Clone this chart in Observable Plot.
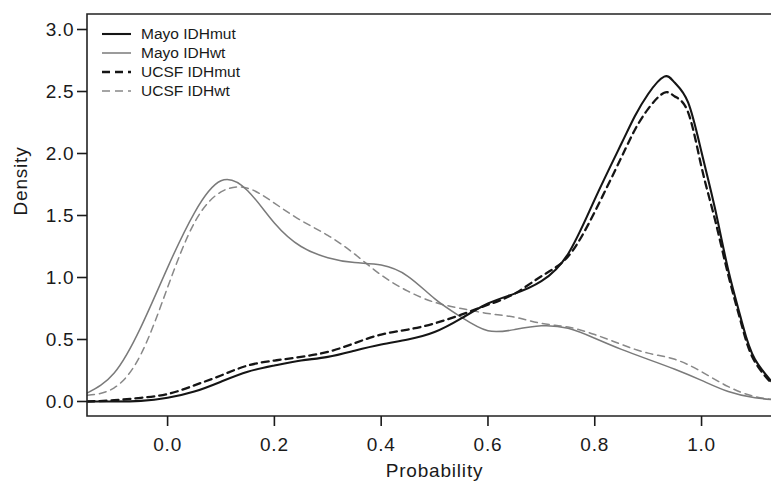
<!DOCTYPE html>
<html>
<head>
<meta charset="utf-8">
<script src="https://cdn.jsdelivr.net/npm/d3@7"></script>
<script src="https://cdn.jsdelivr.net/npm/@observablehq/plot@0.6"></script>
<style>
  html, body { margin: 0; padding: 0; background: #fff; }
  #chart svg { display: block; }
  g[aria-label="x-axis tick label"] text,
  g[aria-label="y-axis tick label"] text,
  .axis-title { letter-spacing: 0.8px; }
</style>
</head>
<body>
<div id="chart"></div>
<script>
// ---- Data ----
const seriesNames = ["Mayo IDHmut", "Mayo IDHwt", "UCSF IDHmut", "UCSF IDHwt"];

// IDHmut curves (denser sampling around the peak)
const xMut = [-0.15,-0.1,-0.05,0,0.05,0.1,0.15,0.2,0.25,0.3,0.35,0.4,0.45,0.5,0.55,0.6,0.65,0.7,0.75,0.8,0.85,0.875,0.9,0.93,0.95,0.975,1.0,1.025,1.05,1.075,1.1,1.15];
const mayoMut = [0,0,0.005,0.03,0.08,0.16,0.24,0.29,0.33,0.36,0.41,0.46,0.50,0.56,0.67,0.79,0.87,0.97,1.19,1.63,2.08,2.30,2.48,2.62,2.57,2.41,2.01,1.56,1.06,0.65,0.34,0.07];
const ucsfMut = [0,0.01,0.03,0.06,0.13,0.21,0.29,0.33,0.36,0.40,0.47,0.54,0.58,0.63,0.70,0.78,0.87,1.01,1.17,1.53,1.97,2.19,2.36,2.49,2.46,2.33,1.89,1.47,1.02,0.62,0.32,0.06];

// IDHwt curves
const xWt = [-0.15,-0.1,-0.05,0,0.05,0.1,0.15,0.2,0.25,0.3,0.35,0.4,0.45,0.5,0.55,0.6,0.65,0.7,0.75,0.8,0.85,0.9,0.95,1.0,1.05,1.1,1.15];
const mayoWt = [0.07,0.23,0.60,1.08,1.52,1.78,1.70,1.44,1.25,1.16,1.12,1.10,1.01,0.83,0.68,0.57,0.58,0.61,0.59,0.51,0.42,0.34,0.26,0.17,0.08,0.03,0.01];
const ucsfWt = [0.05,0.11,0.38,0.92,1.44,1.69,1.72,1.60,1.46,1.34,1.19,1.02,0.89,0.80,0.75,0.71,0.68,0.63,0.60,0.54,0.46,0.39,0.34,0.24,0.12,0.04,0.01];

const xTicks = [0, 0.2, 0.4, 0.6, 0.8, 1.0];
const yTicks = [0, 0.5, 1.0, 1.5, 2.0, 2.5, 3.0];
const xTitle = "Probability";
const yTitle = "Density";

// ---- Styles per series ----
const styles = {
  "Mayo IDHmut": {stroke: "#151515", strokeWidth: 2.1, dash: null},
  "Mayo IDHwt":  {stroke: "#7a7a7a", strokeWidth: 1.5, dash: null},
  "UCSF IDHmut": {stroke: "#151515", strokeWidth: 2.3, dash: "7,5"},
  "UCSF IDHwt":  {stroke: "#888888", strokeWidth: 1.5, dash: "7,5"}
};

const toRows = (xs, ys, name) => xs.map((x, i) => ({x, y: ys[i], series: name}));
const data = {
  "Mayo IDHmut": toRows(xMut, mayoMut, "Mayo IDHmut"),
  "Mayo IDHwt": toRows(xWt, mayoWt, "Mayo IDHwt"),
  "UCSF IDHmut": toRows(xMut, ucsfMut, "UCSF IDHmut"),
  "UCSF IDHwt": toRows(xWt, ucsfWt, "UCSF IDHwt")
};

const drawOrder = ["UCSF IDHwt", "Mayo IDHwt", "UCSF IDHmut", "Mayo IDHmut"];

const lineMarks = drawOrder.map(name => Plot.line(data[name], {
  x: "x", y: "y",
  stroke: styles[name].stroke,
  strokeWidth: styles[name].strokeWidth,
  strokeDasharray: styles[name].dash,
  curve: "natural",
  clip: true
}));

// open frame: left, top, bottom
const frameMark = (index, scales, values, dims) => {
  const g = d3.create("svg:g").attr("stroke", "#222").attr("stroke-width", 1.6).attr("fill", "none");
  const l = dims.marginLeft, t = dims.marginTop, b = dims.height - dims.marginBottom, r = dims.width - dims.marginRight;
  g.append("path").attr("d", `M${r},${t}H${l}V${b}H${r}`);
  return g.node();
};

// legend
const legendMark = (index, scales, values, dims) => {
  const g = d3.create("svg:g");
  seriesNames.forEach((name, i) => {
    const y = dims.marginTop + 20 + i * 19;
    const s = styles[name];
    g.append("line")
      .attr("x1", dims.marginLeft + 15).attr("x2", dims.marginLeft + 44)
      .attr("y1", y).attr("y2", y)
      .attr("stroke", s.stroke).attr("stroke-width", s.strokeWidth)
      .attr("stroke-dasharray", s.dash ? "8,5" : null);
    g.append("text")
      .attr("x", dims.marginLeft + 54).attr("y", y).attr("dy", "0.35em")
      .attr("text-anchor", "start")
      .attr("fill", "#1a1a1a").attr("font-size", 15.5)
      .text(name);
  });
  return g.node();
};

const chart = Plot.plot({
  width: 771,
  height: 486,
  marginLeft: 87,
  marginRight: 0,
  marginTop: 14,
  marginBottom: 70,
  style: {fontFamily: "'Liberation Sans', Arial, Helvetica, sans-serif", color: "#1a1a1a", background: "#fff"},
  x: {domain: [-0.15, 1.131]},
  y: {domain: [-0.121, 3.121]},
  marks: [
    ...lineMarks,
    frameMark,
    Plot.axisX({ticks: xTicks, tickFormat: d3.format(".1f"), tickSize: 10, tickPadding: 11, fontSize: 19, strokeWidth: 1.6, label: null}),
    Plot.axisY({ticks: yTicks, tickFormat: d3.format(".1f"), tickSize: 10, tickPadding: 3, fontSize: 19, strokeWidth: 1.6, label: null}),
    Plot.text([yTitle], {frameAnchor: "left", dx: -67, rotate: -90, fontSize: 19, fill: "#1a1a1a", className: "axis-title", text: d => d}),
    Plot.text([xTitle], {frameAnchor: "bottom", dx: 5, dy: 60, fontSize: 19, fill: "#1a1a1a", className: "axis-title", text: d => d}),
    legendMark
  ]
});
document.getElementById("chart").appendChild(chart);
</script>
</body>
</html>
